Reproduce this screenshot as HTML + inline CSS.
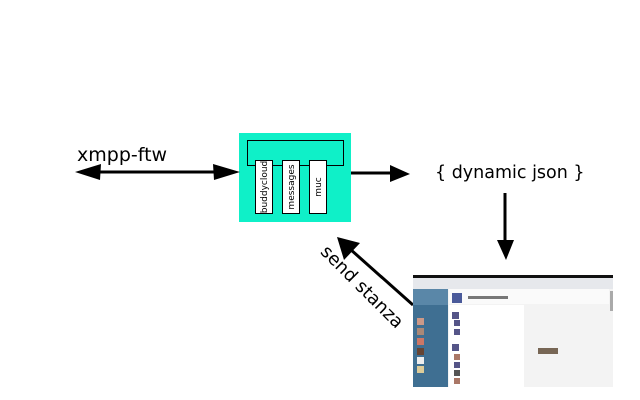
<!DOCTYPE html>
<html><head><style>
html,body{margin:0;padding:0;background:#fff;width:640px;height:400px;overflow:hidden}
text{font-family:"DejaVu Sans","Liberation Sans",sans-serif}
</style></head><body>
<svg width="640" height="400" viewBox="0 0 640 400" xmlns="http://www.w3.org/2000/svg">
<rect x="239" y="133" width="112" height="89" fill="#0ff0c8"/>
<rect x="247.5" y="140.5" width="96" height="25" fill="none" stroke="#000" stroke-width="1"/>
<rect x="255.5" y="160.5" width="17" height="53" fill="#fff" stroke="#000"/>
<rect x="282.5" y="160.5" width="17" height="53" fill="#fff" stroke="#000"/>
<rect x="309.5" y="160.5" width="17" height="53" fill="#fff" stroke="#000"/>
<text transform="translate(267,187) rotate(-90)" font-size="9" text-anchor="middle">buddycloud</text>
<text transform="translate(294,187) rotate(-90)" font-size="9" text-anchor="middle">messages</text>
<text transform="translate(321,187) rotate(-90)" font-size="9" text-anchor="middle">muc</text>
<text x="77" y="161" font-size="19">xmpp-ftw</text>
<line x1="95" y1="172" x2="215" y2="172" stroke="#000" stroke-width="3"/>
<polygon points="75,172 101,164 100,180" fill="#000"/>
<polygon points="240,172 213,164 214,180" fill="#000"/>
<line x1="351" y1="173" x2="392" y2="173" stroke="#000" stroke-width="3"/>
<polygon points="410,174 390,165 390,182" fill="#000"/>
<text x="435" y="178" font-size="17.5">{ dynamic json }</text>
<line x1="505" y1="193" x2="505" y2="242" stroke="#000" stroke-width="3"/>
<polygon points="506,260 497,240 514,240" fill="#000"/>
<line x1="413" y1="305" x2="350" y2="249" stroke="#000" stroke-width="3"/>
<polygon points="337,237 344,260 360,243" fill="#000"/>
<text transform="translate(358,291) rotate(45)" font-size="18" text-anchor="middle">send stanza</text>
<g>
<rect x="413" y="275" width="200" height="112" fill="#f3f3f3"/>
<rect x="413" y="275" width="200" height="3" fill="#111"/>
<rect x="413" y="278" width="200" height="11" fill="#e6e8ec"/>
<rect x="413" y="289" width="35" height="98" fill="#3f6f92"/>
<rect x="413" y="289" width="35" height="16" fill="#5a87a8"/>
<rect x="449" y="305" width="75" height="82" fill="#fff"/>
<rect x="449" y="289" width="160" height="15" fill="#fafafa"/>
<rect x="452" y="293" width="10" height="10" fill="#4a5a9a"/>
<rect x="468" y="296" width="40" height="3" fill="#777"/>
<rect x="610" y="291" width="3" height="20" fill="#aaa"/>
<rect x="417" y="318" width="7" height="7" fill="#c98"/>
<rect x="417" y="328" width="7" height="7" fill="#a87"/>
<rect x="417" y="338" width="7" height="7" fill="#c76"/>
<rect x="417" y="348" width="7" height="7" fill="#643"/>
<rect x="417" y="357" width="7" height="7" fill="#eee"/>
<rect x="417" y="366" width="7" height="7" fill="#dc9"/>
<rect x="452" y="312" width="7" height="7" fill="#558"/>
<rect x="454" y="320" width="6" height="6" fill="#558"/>
<rect x="454" y="329" width="6" height="6" fill="#558"/>
<rect x="452" y="344" width="7" height="7" fill="#558"/>
<rect x="454" y="354" width="6" height="6" fill="#a76"/>
<rect x="454" y="362" width="6" height="6" fill="#558"/>
<rect x="454" y="370" width="6" height="6" fill="#555"/>
<rect x="454" y="378" width="6" height="6" fill="#a76"/>
<rect x="538" y="348" width="20" height="6" fill="#765"/>
</g>
</svg>
</body></html>
